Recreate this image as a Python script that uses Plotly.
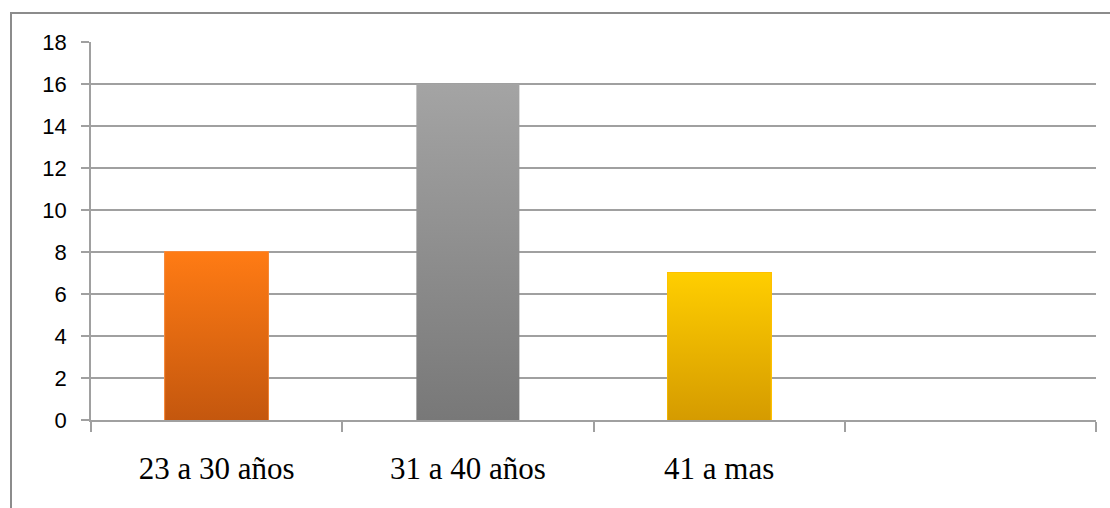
import plotly.graph_objects as go

# Age groups and counts
categories = ["23 a 30 años", "31 a 40 años", "41 a mas", ""]
values = [8, 16, 7]
y_ticks = [0, 2, 4, 6, 8, 10, 12, 14, 16, 18]

# Per-bar vertical gradient (bottom colour, top colour) and outline colour
grad_bottom = ["#C4570E", "#787878", "#D59B00"]
grad_top = ["#FF7B14", "#A4A4A4", "#FFCE00"]
outline = ["#F58A3C", "rgba(0,0,0,0)", "#FFC000"]

BAR_W = 0.41
W, H = 1110, 508
L, R, T, B = 91, 14, 42, 88
plot_w = W - L - R
plot_h = H - T - B

fig = go.Figure()

# Gradient-filled bodies of the bars
for i, v in enumerate(values):
    x0, x1 = i - BAR_W / 2, i + BAR_W / 2
    fig.add_trace(go.Scatter(
        x=[x0, x1, x1, x0, x0],
        y=[0, 0, v, v, 0],
        mode="lines",
        line=dict(width=0),
        fill="toself",
        fillgradient=dict(
            type="vertical",
            colorscale=[[0, grad_bottom[i]], [1, grad_top[i]]],
        ),
        hoverinfo="skip",
        showlegend=False,
    ))

# Bar outlines
fig.add_trace(go.Bar(
    x=list(range(len(values))),
    y=values,
    width=BAR_W,
    marker=dict(color="rgba(0,0,0,0)", line=dict(color=outline, width=2)),
    showlegend=False,
))

axis_grey = "#A0A0A0"

fig.update_xaxes(
    range=[-0.5, len(categories) - 0.5],
    tickvals=list(range(len(categories))),
    ticktext=categories,
    ticks="",
    tickfont=dict(family="Liberation Serif", size=31, color="#000000"),
    showgrid=False,
    zeroline=False,
    showline=True,
    linecolor=axis_grey,
    linewidth=1.5,
    ticklabelstandoff=20,
    minor=dict(
        tickvals=[k - 0.5 for k in range(len(categories) + 1)],
        ticks="outside",
        ticklen=10,
        tickcolor=axis_grey,
        tickwidth=1.5,
        showgrid=False,
    ),
    fixedrange=True,
)

fig.update_yaxes(
    range=[0, 18],
    tickvals=y_ticks,
    ticks="outside",
    ticklen=8,
    tickcolor=axis_grey,
    tickwidth=1.5,
    tickfont=dict(family="Liberation Sans", size=22, color="#000000"),
    ticklabelstandoff=10,
    showgrid=True,
    gridcolor=axis_grey,
    gridwidth=1.5,
    zeroline=False,
    showline=True,
    linecolor=axis_grey,
    linewidth=1.5,
    fixedrange=True,
)


def px_x(p):
    return (p - L) / plot_w


def px_y(p):
    return (H - B - p) / plot_h


# Outer chart border (top and left edges)
frame = "#8C8C8C"
fig.add_shape(type="line", xref="paper", yref="paper",
              x0=px_x(10), x1=px_x(W + 5), y0=px_y(13), y1=px_y(13),
              line=dict(color=frame, width=2))
fig.add_shape(type="line", xref="paper", yref="paper",
              x0=px_x(11), x1=px_x(11), y0=px_y(13), y1=px_y(H + 5),
              line=dict(color=frame, width=2))

fig.update_layout(
    width=W,
    height=H,
    margin=dict(l=L, r=R, t=T, b=B),
    plot_bgcolor="#FFFFFF",
    paper_bgcolor="#FFFFFF",
    bargap=0,
    showlegend=False,
)

fig.write_html("out.html", config={"displayModeBar": False})
